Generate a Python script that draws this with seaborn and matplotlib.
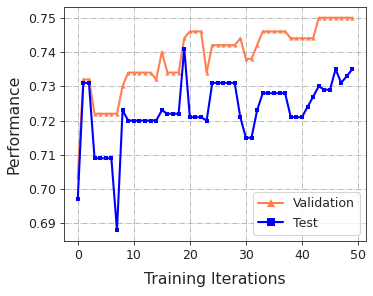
import numpy as np
import pandas as pd
import matplotlib
matplotlib.use("Agg")
import matplotlib.pyplot as plt
import seaborn as sns


# ── Data ──────────────────────────────────────────────────────────────────────

iterations = list(range(50))

validation = [0.7036, 0.732, 0.732, 0.722, 0.722, 0.722, 0.722, 0.722, 0.730, 0.734,
              0.734, 0.734, 0.734, 0.734, 0.732, 0.740, 0.734, 0.734, 0.734, 0.744,
              0.746, 0.746, 0.746, 0.734, 0.742, 0.742, 0.742, 0.742, 0.742, 0.744,
              0.738, 0.738, 0.742, 0.746, 0.746, 0.746, 0.746, 0.746, 0.744, 0.744,
              0.744, 0.744, 0.744, 0.750, 0.750, 0.750, 0.750, 0.750, 0.750, 0.750]

test = [0.697, 0.731, 0.731, 0.709, 0.709, 0.709, 0.709, 0.688, 0.723, 0.720,
        0.720, 0.720, 0.720, 0.720, 0.720, 0.723, 0.722, 0.722, 0.722, 0.741,
        0.721, 0.721, 0.721, 0.720, 0.731, 0.731, 0.731, 0.731, 0.731, 0.721,
        0.715, 0.715, 0.723, 0.728, 0.728, 0.728, 0.728, 0.728, 0.721, 0.721,
        0.721, 0.724, 0.727, 0.730, 0.729, 0.729, 0.735, 0.731, 0.733, 0.735]

series_names = ['Validation', 'Test']
series_colors = ['coral', 'blue']
series_markers = ['^', 's']


# ── Plot ──────────────────────────────────────────────────────────────────────

sns.set_style('ticks')
plt.rcParams['font.family'] = ['DejaVu Sans']

fig = plt.figure(figsize=(373 / 75, 296 / 75), dpi=75)
ax = fig.add_axes([0.1716, 0.186, 0.81, 0.79])

for name, values, color, marker in zip(series_names, [validation, test],
                                       series_colors, series_markers):
    sns.lineplot(x=iterations, y=values, ax=ax, color=color, marker=marker,
                 markersize=4, markeredgewidth=0, linewidth=2, label=name)

ax.grid(True, linestyle='-.', color='#b0b0b0', linewidth=0.8)
ax.set_xticks([0, 10, 20, 30, 40, 50])
ax.set_yticks([0.69, 0.70, 0.71, 0.72, 0.73, 0.74, 0.75])
ax.tick_params(labelsize=12, colors='#222222', length=4)
for s in ax.spines.values():
    s.set_color('#222222')

ax.set_xlabel('Training Iterations', fontsize=15, labelpad=10)
ax.set_ylabel('Performance', fontsize=15, labelpad=6)

ax.legend(loc='lower right', fontsize=12, markerscale=2, frameon=True,
          handlelength=2, borderpad=0.4)

fig.savefig('out.png', dpi=75)
